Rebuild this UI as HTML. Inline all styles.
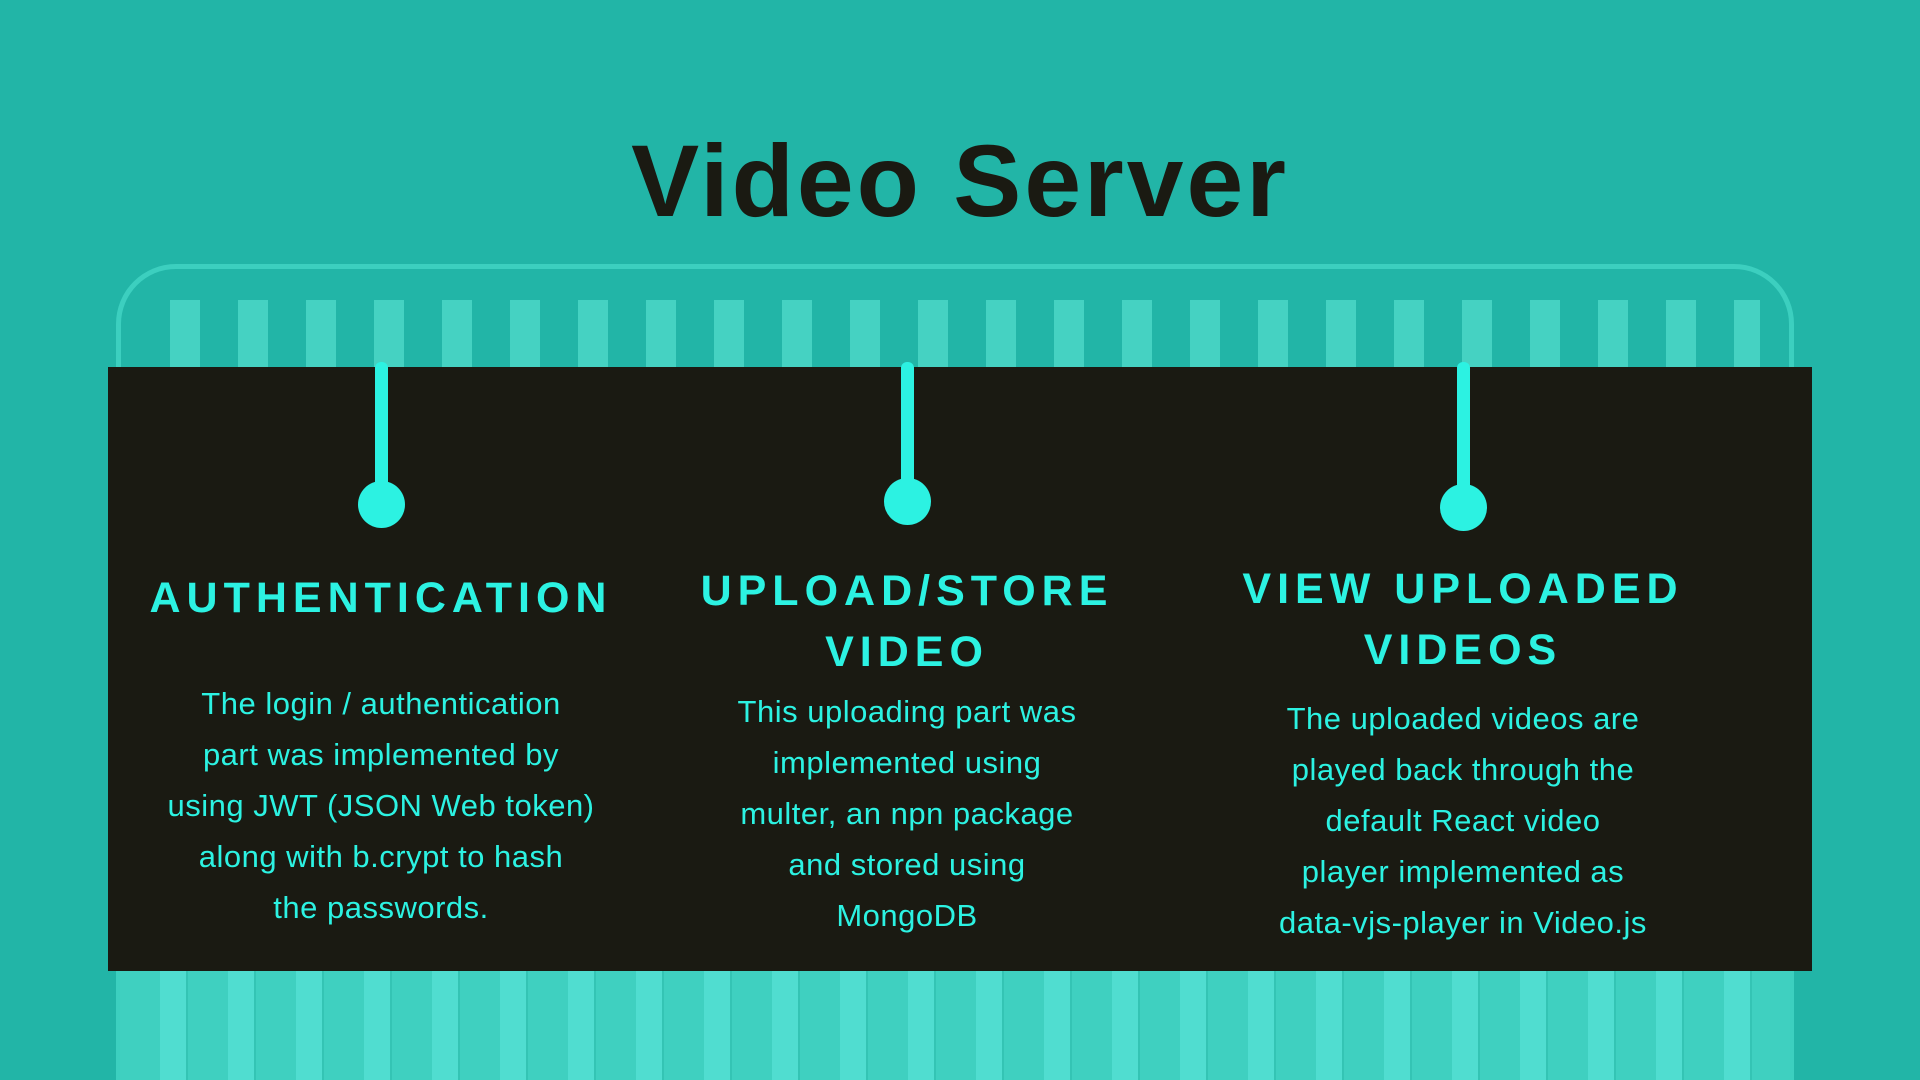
<!DOCTYPE html>
<html><head><meta charset="utf-8"><style>
html,body{margin:0;padding:0;width:1920px;height:1080px;overflow:hidden}
body{position:relative;background:#22b5a7;font-family:"Liberation Sans",sans-serif}
.tray{position:absolute;left:116px;top:264px;width:1678px;height:816px;border:5px solid #3ccfbf;border-bottom:none;border-radius:60px 60px 0 0;box-sizing:border-box}
.tips{position:absolute;left:150px;top:300px;width:1610px;height:70px;background:repeating-linear-gradient(90deg,transparent 0,transparent 20px,#45d2c2 20px,#45d2c2 50px,transparent 50px,transparent 68px)}
.pencils{position:absolute;left:120px;top:971px;width:1670px;height:109px;background:repeating-linear-gradient(90deg,#3fd0c0 0,#3fd0c0 40px,#50ddd0 40px,#50ddd0 66px,#34c4b4 66px,#34c4b4 68px)}
.box{position:absolute;left:108px;top:367px;width:1704px;height:604px;background:#1a1a12}
h1{position:absolute;left:0;width:1920px;top:116px;margin:0;text-align:center;font-size:102px;font-weight:bold;color:#1a1a12;line-height:130px;letter-spacing:3px}
.stem{position:absolute;width:13px;background:#2cf2e2;border-radius:6px;top:362px;height:130px}
.dot{position:absolute;width:47px;height:47px;border-radius:50%;background:#2cf2e2}
.h{position:absolute;text-align:center;color:#2cf2e2;font-weight:bold;font-size:43px;letter-spacing:6px;line-height:61px;width:560px}
.t{position:absolute;text-align:center;color:#2cf2e2;font-size:31px;line-height:51px;width:520px;letter-spacing:0.5px}
</style></head><body>
<div class="tray"></div>
<div class="tips"></div>
<div class="pencils"></div>
<h1>Video Server</h1>
<div class="box"></div>
<div class="stem" style="left:375px"></div><div class="dot" style="left:358px;top:481px"></div>
<div class="stem" style="left:901px;height:126px"></div><div class="dot" style="left:884px;top:478px"></div>
<div class="stem" style="left:1457px"></div><div class="dot" style="left:1440px;top:484px"></div>
<div class="h" style="left:101px;top:568px">AUTHENTICATION</div>
<div class="h" style="left:627px;top:561px">UPLOAD/STORE<br>VIDEO</div>
<div class="h" style="left:1183px;top:559px">VIEW UPLOADED<br>VIDEOS</div>
<div class="t" style="left:121px;top:678px">The login / authentication<br>part was implemented by<br>using JWT (JSON Web token)<br>along with b.crypt to hash<br>the passwords.</div>
<div class="t" style="left:647px;top:686px">This uploading part was<br>implemented using<br>multer, an npn package<br>and stored using<br>MongoDB</div>
<div class="t" style="left:1203px;top:693px">The uploaded videos are<br>played back through the<br>default React video<br>player implemented as<br>data-vjs-player in Video.js</div>
</body></html>
